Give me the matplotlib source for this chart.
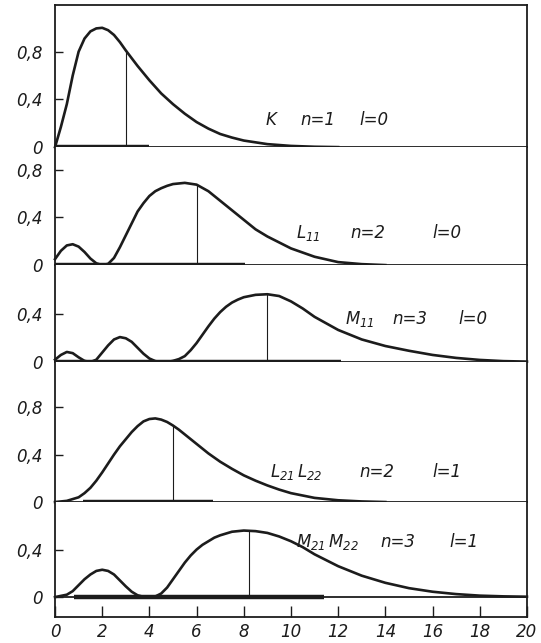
import numpy as np
import matplotlib
matplotlib.use("Agg")
import matplotlib.pyplot as plt

# radial probability curves
x_k = [0, 0.25, 0.5, 0.75, 1.0, 1.25, 1.5, 1.75, 2.0, 2.25, 2.5, 2.75, 3.0, 3.25, 3.5, 3.75, 4.0,
       4.5, 5.0, 5.5, 6.0, 6.5, 7.0, 7.5, 8.0, 9.0, 10.0, 11.0, 12.0]
y_k = [0, 0.17, 0.36, 0.6, 0.8, 0.91, 0.97, 0.995, 1.0, 0.98, 0.94, 0.88, 0.81, 0.745, 0.68, 0.62, 0.56,
       0.45, 0.36, 0.28, 0.21, 0.155, 0.11, 0.08, 0.055, 0.025, 0.01, 0.003, 0]

x_l11 = [0, 0.25, 0.5, 0.75, 1.0, 1.25, 1.5, 1.75, 2.0, 2.25, 2.5, 2.75, 3.0, 3.25, 3.5, 3.75,
         4.0, 4.25, 4.5, 4.75, 5.0, 5.5, 6.0, 6.5, 7.0, 7.5, 8.0, 8.5, 9.0, 10.0, 11.0, 12.0, 13.0, 14.0]
y_l11 = [0.05, 0.12, 0.165, 0.175, 0.155, 0.11, 0.055, 0.015, 0.0, 0.01, 0.06, 0.15, 0.25, 0.35, 0.45, 0.52,
         0.58, 0.62, 0.645, 0.665, 0.68, 0.69, 0.675, 0.62, 0.54, 0.46, 0.38, 0.30, 0.24, 0.14, 0.07, 0.025,
         0.008, 0]

x_m11 = [0, 0.25, 0.5, 0.75, 1.0, 1.25, 1.5, 1.75, 2.0, 2.25, 2.5, 2.75, 3.0, 3.25, 3.5, 3.75,
         4.0, 4.25, 4.5, 4.75, 5.0, 5.25, 5.5, 5.75, 6.0, 6.25, 6.5, 6.75, 7.0, 7.25, 7.5, 7.75,
         8.0, 8.5, 9.0, 9.5, 10.0, 10.5, 11.0, 12.0, 13.0, 14.0, 15.0, 16.0, 17.0, 18.0, 19.0, 20.0]
y_m11 = [0.02, 0.06, 0.085, 0.075, 0.04, 0.01, 0.0, 0.02, 0.08, 0.14, 0.19, 0.21, 0.2, 0.17, 0.12, 0.07,
         0.03, 0.008, 0.0, 0.0, 0.01, 0.025, 0.05, 0.1, 0.16, 0.23, 0.3, 0.365, 0.42, 0.465, 0.5, 0.525,
         0.545, 0.565, 0.57, 0.555, 0.51, 0.45, 0.38, 0.27, 0.19, 0.135, 0.095, 0.06, 0.035, 0.018,
         0.008, 0.004]

x_l21 = [0, 0.5, 1.0, 1.25, 1.5, 1.75, 2.0, 2.25, 2.5, 2.75, 3.0, 3.25, 3.5, 3.75, 4.0, 4.25, 4.5,
         4.75, 5.0, 5.25, 5.5, 5.75, 6.0, 6.5, 7.0, 7.5, 8.0, 8.5, 9.0, 9.5, 10.0, 11.0, 12.0, 13.0, 14.0]
y_l21 = [0, 0.01, 0.04, 0.075, 0.12, 0.18, 0.25, 0.325, 0.4, 0.47, 0.53, 0.59, 0.64, 0.68, 0.70, 0.705,
         0.695, 0.675, 0.645, 0.61, 0.57, 0.53, 0.49, 0.41, 0.34, 0.28, 0.225, 0.18, 0.14, 0.105, 0.075,
         0.035, 0.015, 0.005, 0]

x_m21 = [0, 0.5, 0.75, 1.0, 1.25, 1.5, 1.75, 2.0, 2.25, 2.5, 2.75, 3.0, 3.25, 3.5, 3.75, 4.0,
         4.25, 4.5, 4.75, 5.0, 5.25, 5.5, 5.75, 6.0, 6.25, 6.5, 6.75, 7.0, 7.5, 8.0, 8.5, 9.0, 9.5,
         10.0, 10.5, 11.0, 12.0, 13.0, 14.0, 15.0, 16.0, 17.0, 18.0, 19.0, 20.0]
y_m21 = [0, 0.02, 0.05, 0.1, 0.15, 0.19, 0.22, 0.23, 0.22, 0.19, 0.14, 0.09, 0.045, 0.015, 0.002, 0.0,
         0.005, 0.03, 0.08, 0.15, 0.22, 0.29, 0.35, 0.40, 0.44, 0.47, 0.50, 0.52, 0.55, 0.56, 0.555, 0.54,
         0.51, 0.47, 0.42, 0.36, 0.26, 0.18, 0.12, 0.075, 0.045, 0.025, 0.012, 0.006, 0.003]

mean_r = [3.0, 6.0, 9.0, 5.0, 8.2]
bars = [(0, 4.0), (0, 8.05), (0, 12.1), (1.2, 6.7), (0.8, 11.4)]
names = ["$K$", "$L_{11}$", "$M_{11}$", "$L_{21}\\,L_{22}$", "$M_{21}\\,M_{22}$"]
n_labels = ["n=1", "n=2", "n=3", "n=2", "n=3"]
l_labels = ["l=0", "l=0", "l=0", "l=1", "l=1"]
yticks = [[0, 0.4, 0.8], [0, 0.4, 0.8], [0, 0.4], [0, 0.4, 0.8], [0, 0.4]]
xticks = [0, 2, 4, 6, 8, 10, 12, 14, 16, 18, 20]

# label positions (x of name, n, l and y centre)
label_pos = [(8.9, 10.4, 12.9, 0.23), (10.2, 12.5, 16.0, 0.27), (12.3, 14.3, 17.1, 0.36),
             (9.1, 12.9, 16.0, 0.25), (10.2, 13.8, 16.7, 0.46)]
ylims = [(0, 1.19), (0, 0.99), (0, 0.815), (0, 1.18), (-0.168, 0.80)]

ink = "#1c1c1c"
plt.rcParams["font.style"] = "italic"
plt.rcParams["mathtext.fontset"] = "custom"
plt.rcParams["mathtext.it"] = "DejaVu Sans:italic"
plt.rcParams["mathtext.rm"] = "DejaVu Sans:italic"


def draw_panel(ax, x, y, idx):
    ax.plot(x, y, color=ink, lw=1.9, clip_on=False, zorder=3, solid_joinstyle="round")
    # mean radius marker up to the curve
    top = np.interp(mean_r[idx], x, y)
    ax.plot([mean_r[idx], mean_r[idx]], [0, top], color=ink, lw=0.8)
    # thick bar on the baseline
    ax.plot(bars[idx], [0, 0], color=ink, lw=3.2, solid_capstyle="butt", clip_on=False, zorder=4)
    nx, ny, lx, ly = label_pos[idx]
    ax.text(nx, ly, names[idx], fontsize=12, color=ink, va="center", ha="left")
    ax.text(ny, ly, n_labels[idx], fontsize=12, color=ink, va="center", ha="left")
    ax.text(lx, ly, l_labels[idx], fontsize=12, color=ink, va="center", ha="left")

    ax.set_ylim(*ylims[idx])
    ax.set_yticks(yticks[idx])
    ax.set_yticklabels([("%.1f" % t).replace(".", ",") if t else "0" for t in yticks[idx]])
    ax.tick_params(axis="y", direction="in", length=6, width=1, pad=9, labelsize=12, colors=ink)
    for side in ["left", "right", "top", "bottom"]:
        ax.spines[side].set_color(ink)
        ax.spines[side].set_linewidth(1.3)
    if idx > 0:
        ax.spines["top"].set_visible(False)


fig, axes = plt.subplots(5, 1, figsize=(5.41, 6.43), dpi=100, sharex=True,
                         gridspec_kw={"height_ratios": [142, 118, 97, 140, 115], "hspace": 0})
fig.subplots_adjust(left=0.1017, right=0.974, top=0.992, bottom=0.0404)

series = [(x_k, y_k), (x_l11, y_l11), (x_m11, y_m11), (x_l21, y_l21), (x_m21, y_m21)]
for i, (ax, (xs, ys)) in enumerate(zip(axes, series)):
    draw_panel(ax, xs, ys, i)

axes[-1].axhline(0, color=ink, lw=1.3)
axes[-1].set_xlim(0, 20)
axes[-1].set_xticks(xticks)
axes[-1].set_xticklabels([str(t) for t in xticks])
axes[-1].tick_params(axis="x", direction="in", length=8, width=1, pad=4, labelsize=12, colors=ink)
for ax in axes[:-1]:
    ax.tick_params(axis="x", bottom=False)

fig.savefig("out.png", dpi=100, facecolor="white")
